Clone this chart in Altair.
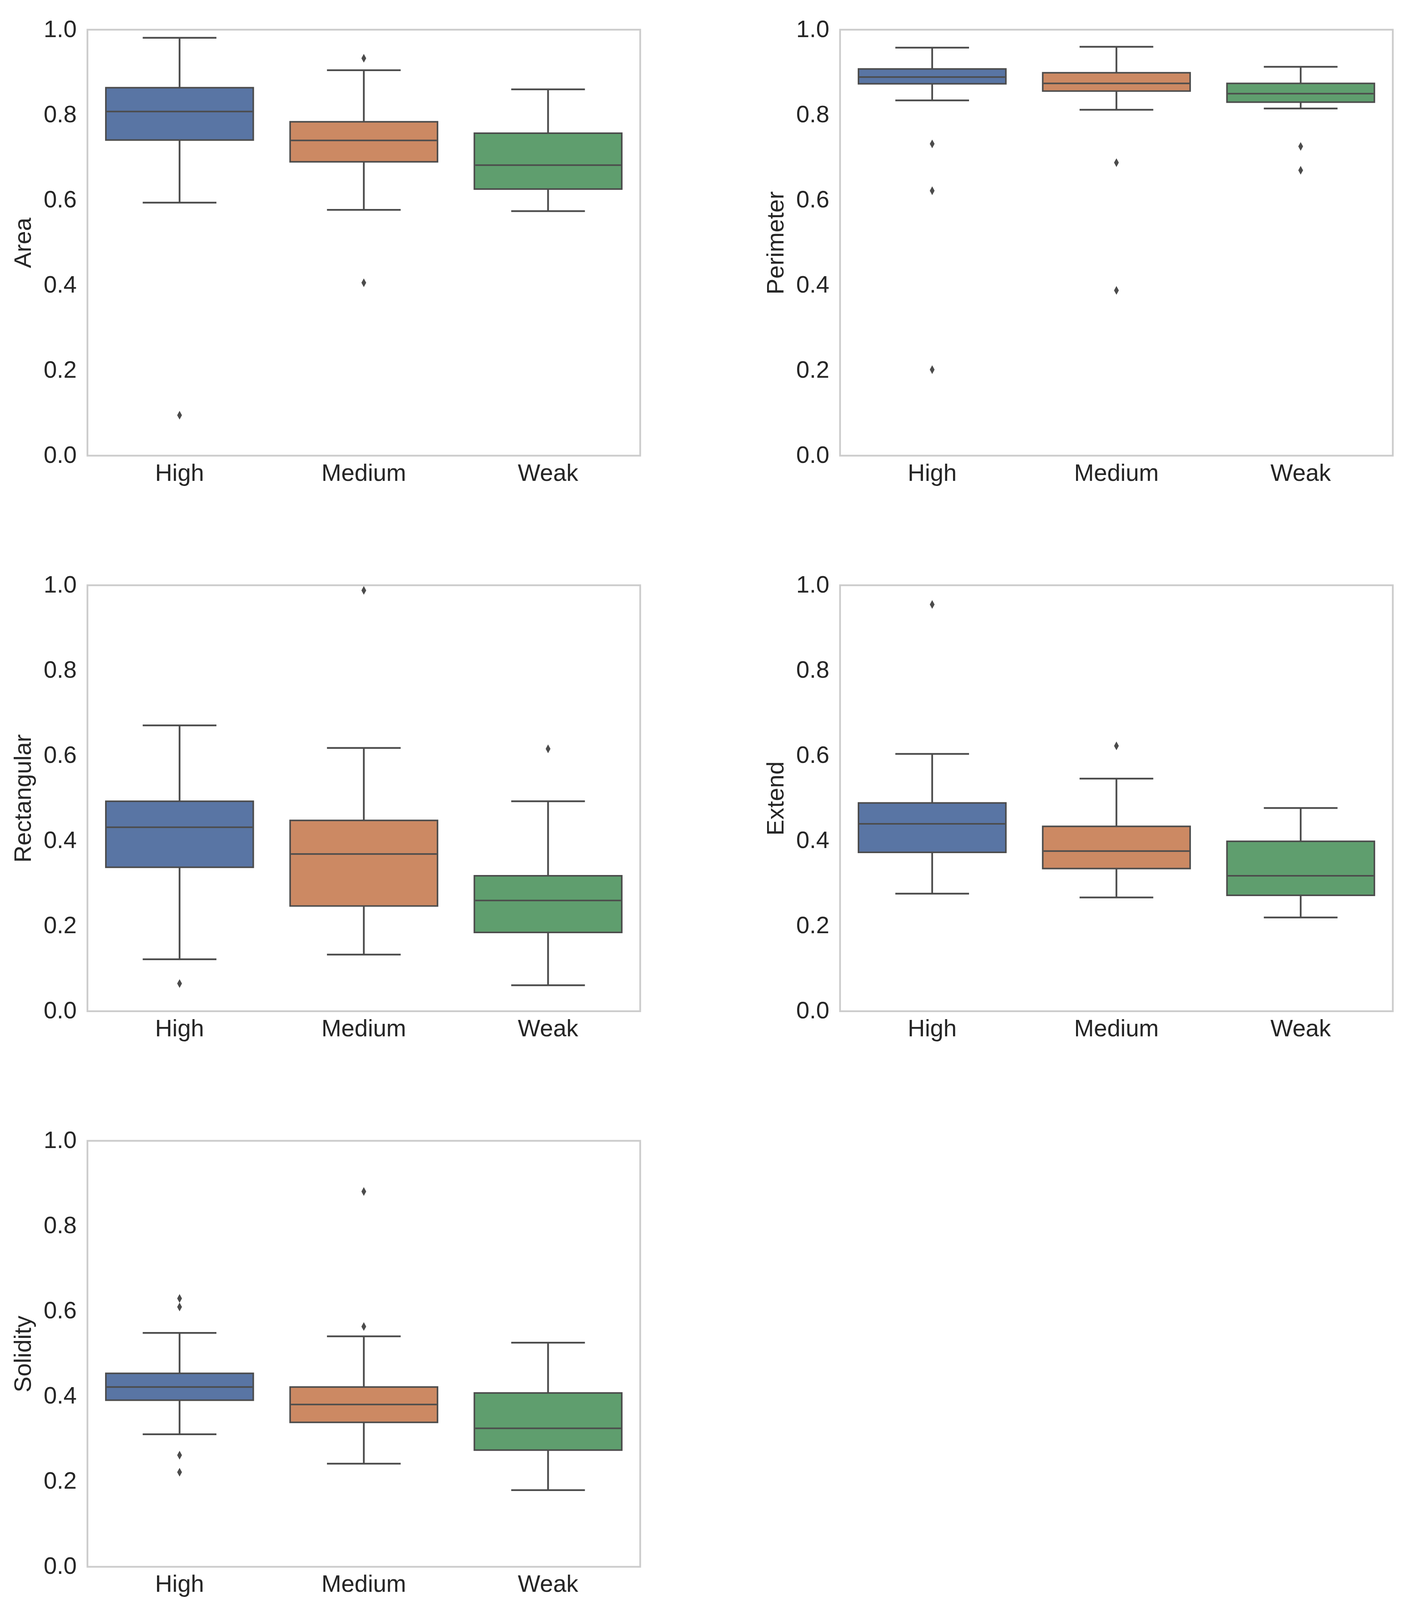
import altair as alt
import pandas as pd

categories = ["High", "Medium", "Weak"]
colors = ["#5975a4", "#cc8963", "#5f9e6e"]
GRAY = "#4c4c4c"

# Area
area_lower = [0.594, 0.577, 0.574]
area_q1 = [0.741, 0.690, 0.626]
area_median = [0.808, 0.740, 0.682]
area_q3 = [0.864, 0.784, 0.757]
area_upper = [0.981, 0.905, 0.860]
area_outliers = [[0.095], [0.933, 0.406], []]

# Perimeter
perimeter_lower = [0.834, 0.812, 0.815]
perimeter_q1 = [0.873, 0.856, 0.830]
perimeter_median = [0.889, 0.874, 0.850]
perimeter_q3 = [0.908, 0.899, 0.874]
perimeter_upper = [0.958, 0.960, 0.913]
perimeter_outliers = [[0.732, 0.622, 0.202], [0.688, 0.388], [0.726, 0.670]]

# Rectangular
rect_lower = [0.122, 0.133, 0.061]
rect_q1 = [0.338, 0.247, 0.185]
rect_median = [0.432, 0.369, 0.260]
rect_q3 = [0.493, 0.448, 0.318]
rect_upper = [0.671, 0.618, 0.493]
rect_outliers = [[0.065], [0.988], [0.616]]

# Extend
extend_lower = [0.276, 0.267, 0.220]
extend_q1 = [0.373, 0.335, 0.272]
extend_median = [0.440, 0.376, 0.318]
extend_q3 = [0.489, 0.434, 0.399]
extend_upper = [0.604, 0.546, 0.477]
extend_outliers = [[0.955], [0.623], []]

# Solidity
solid_lower = [0.311, 0.242, 0.180]
solid_q1 = [0.391, 0.339, 0.274]
solid_median = [0.422, 0.381, 0.325]
solid_q3 = [0.454, 0.422, 0.408]
solid_upper = [0.549, 0.541, 0.526]
solid_outliers = [[0.630, 0.610, 0.262, 0.222], [0.881, 0.564], []]

y_ticks = [0.0, 0.2, 0.4, 0.6, 0.8, 1.0]

W = 1416
H = 1091
BAND = W / 3
DIAMOND = "M0,-1L0.55,0L0,1L-0.55,0Z"


def panel(name, lower, q1, med, q3, upper, outliers):
    box_df = pd.DataFrame({"cat": categories, "lower": lower, "q1": q1,
                           "median": med, "q3": q3, "upper": upper})
    rows = [(c, v) for c, vals in zip(categories, outliers) for v in vals]
    out_df = pd.DataFrame(rows, columns=["cat", "value"])

    x = alt.X("cat:N", sort=categories,
              scale=alt.Scale(domain=categories, paddingInner=0, paddingOuter=0),
              axis=alt.Axis(title=None, labelAngle=0, domain=False, ticks=False,
                            tickSize=0, grid=False, labelPadding=16,
                            labelLimit=0))
    ysc = alt.Scale(domain=[0, 1], nice=False, zero=False)
    yax = alt.Axis(title=name, values=y_ticks, format=".1f", grid=False,
                   domain=False, ticks=False, tickSize=0, labelPadding=28,
                   titlePadding=20, labelLimit=0)

    def Y(field):
        return alt.Y(field, scale=ysc, axis=yax)

    base = alt.Chart(box_df)
    whisk = base.mark_rule(color=GRAY, strokeWidth=4.5).encode(
        x=x, y=Y("lower:Q"), y2="upper:Q")
    box = base.mark_bar(width=alt.RelativeBandSize(0.8), stroke=GRAY,
                        strokeWidth=4, opacity=1).encode(
        x=x, y=Y("q1:Q"), y2="q3:Q",
        color=alt.Color("cat:N", scale=alt.Scale(domain=categories, range=colors),
                        legend=None))
    median = base.mark_tick(color=GRAY, thickness=4, size=BAND * 0.8 - 4,
                            orient="horizontal", opacity=1).encode(x=x, y=Y("median:Q"))
    cap_lo = base.mark_tick(color=GRAY, thickness=4.5, size=BAND * 0.4,
                            orient="horizontal", opacity=1).encode(x=x, y=Y("lower:Q"))
    cap_hi = base.mark_tick(color=GRAY, thickness=4.5, size=BAND * 0.4,
                            orient="horizontal", opacity=1).encode(x=x, y=Y("upper:Q"))
    outl = alt.Chart(out_df).mark_point(shape=DIAMOND, filled=True, color=GRAY,
                                        size=500, opacity=1, strokeWidth=0).encode(
        x=x, y=Y("value:Q"))
    return alt.layer(whisk, box, median, cap_lo, cap_hi, outl).properties(
        width=W, height=H)


p1 = panel("Area", area_lower, area_q1, area_median, area_q3, area_upper, area_outliers)
p2 = panel("Perimeter", perimeter_lower, perimeter_q1, perimeter_median,
           perimeter_q3, perimeter_upper, perimeter_outliers)
p3 = panel("Rectangular", rect_lower, rect_q1, rect_median, rect_q3, rect_upper,
           rect_outliers)
p4 = panel("Extend", extend_lower, extend_q1, extend_median, extend_q3,
           extend_upper, extend_outliers)
p5 = panel("Solidity", solid_lower, solid_q1, solid_median, solid_q3, solid_upper,
           solid_outliers)

row1 = alt.hconcat(p1, p2, spacing=311)
row2 = alt.hconcat(p3, p4, spacing=311)

chart = alt.vconcat(row1, row2, p5, spacing=219).properties(
    padding={"left": 18, "top": 33, "right": 10, "bottom": 10},
    background="white",
).configure_axis(
    labelFont="Liberation Sans", labelFontSize=61, labelColor="#262626",
    titleFont="Liberation Sans", titleFontSize=61, titleColor="#262626",
    titleFontWeight="normal",
).configure_view(
    stroke="#cccccc", strokeWidth=4.5,
)

chart.save("out.html", embed_options={"renderer": "svg", "actions": False})
